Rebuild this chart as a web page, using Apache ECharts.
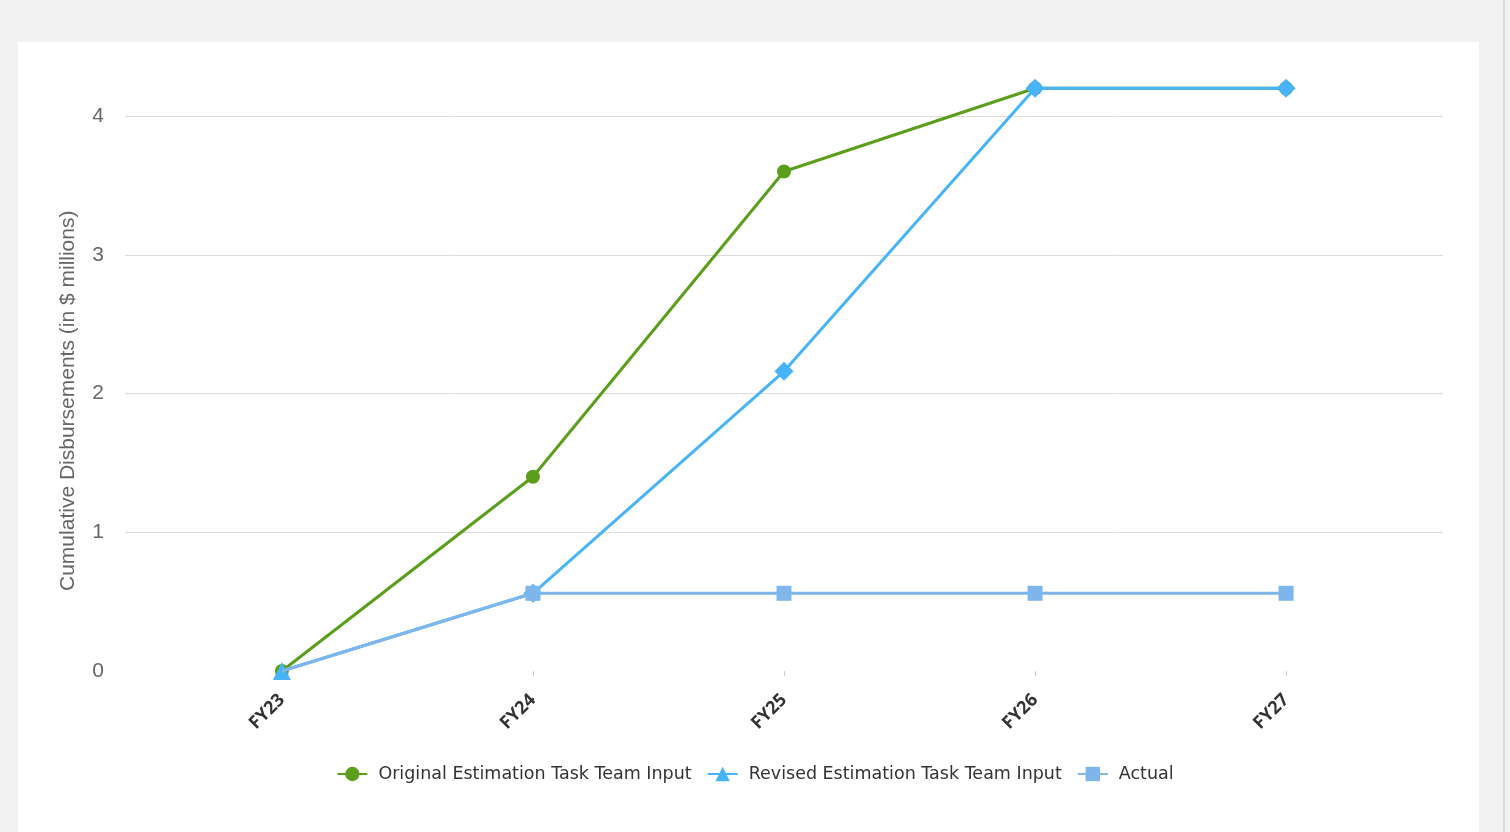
<!DOCTYPE html>
<html>
<head>
<meta charset="utf-8">
<script src="https://cdn.jsdelivr.net/npm/echarts@6/dist/echarts.min.js"></script>
<style>
  html, body { margin: 0; padding: 0; background: #f2f2f2; width: 1510px; height: 832px; overflow: hidden; }
  #panel { position: absolute; left: 18px; top: 42px; width: 1461px; height: 800px; background: #ffffff; }
  #edge { position: absolute; left: 1503px; top: 0; width: 2px; height: 832px; background: #dcdcdc; }
  #chart { position: absolute; left: 0; top: 0; width: 1510px; height: 832px; }
</style>
</head>
<body>
<div id="panel"></div>
<div id="edge"></div>
<div id="chart"></div>
<script>
const categories = ['FY23', 'FY24', 'FY25', 'FY26', 'FY27'];
const originalValues = [0, 1.4, 3.6, 4.2, 4.2];
const revisedValues = [0, 0.56, 2.16, 4.2, 4.2];
const actualValues = [0, 0.56, 0.56, 0.56, 0.56];
const yTickValues = [0, 1, 2, 3, 4];
const seriesNames = ['Original Estimation Task Team Input', 'Revised Estimation Task Team Input', 'Actual'];

const xIdx = categories.map((c, i) => i);
const pairs = vals => vals.map((v, i) => [i, v]);

const chart = echarts.init(document.getElementById('chart'), null, { renderer: 'canvas' });
chart.setOption({
  backgroundColor: 'transparent',
  animation: false,
  grid: { left: 125, right: 67, top: 60.5, bottom: 161, containLabel: false },
  xAxis: {
    type: 'value',
    min: -0.625,
    max: 4.625,
    offset: 6,
    axisLine: { show: false },
    splitLine: { show: false },
    axisTick: { show: true, customValues: xIdx, length: 5, lineStyle: { color: '#c8c8c8', width: 1 } },
    axisLabel: {
      customValues: xIdx,
      rotate: 45,
      margin: 20,
      color: '#333333',
      fontFamily: 'Open Sans',
      fontWeight: 'bold',
      fontSize: 18,
      formatter: v => categories[Math.round(v)]
    }
  },
  yAxis: {
    type: 'value',
    min: 0,
    max: 4.4,
    interval: 1,
    name: 'Cumulative Disbursements (in $ millions)',
    nameLocation: 'middle',
    nameGap: 46,
    nameTextStyle: { color: '#666666', fontSize: 21, fontFamily: 'Liberation Sans', padding: [0, 70, 0, 0] },
    axisLine: { show: false },
    axisTick: { show: false },
    splitLine: { show: true, showMinLine: false, showMaxLine: false, lineStyle: { color: '#dcdcdc', width: 1 } },
    axisLabel: {
      customValues: yTickValues,
      margin: 21,
      color: '#666666',
      fontSize: 21,
      fontFamily: 'Liberation Sans'
    }
  },
  legend: {
    bottom: 44,
    left: 'center',
    itemWidth: 30,
    itemHeight: 18,
    itemGap: 15,
    textStyle: { color: '#333333', fontSize: 17.5, fontFamily: 'DejaVu Sans', padding: [0, 0, 0, 6] },
    data: seriesNames
  },
  series: [
    {
      name: seriesNames[0],
      type: 'line',
      data: pairs(originalValues),
      symbol: 'circle',
      symbolSize: 14,
      lineStyle: { color: '#5a9e1b', width: 3 },
      itemStyle: { color: '#5a9e1b' },
      z: 2
    },
    {
      name: seriesNames[1],
      type: 'line',
      data: pairs(revisedValues).map((p, i) => ({ value: p, symbol: i === 0 ? 'triangle' : 'diamond', symbolSize: i === 0 ? 18 : 19 })),
      symbol: 'triangle',
      symbolSize: 16,
      lineStyle: { color: '#47b4f7', width: 3 },
      itemStyle: { color: '#47b4f7' },
      z: 4
    },
    {
      name: seriesNames[2],
      type: 'line',
      data: pairs(actualValues).map((p, i) => ({ value: p, symbolSize: i === 0 ? 0 : 15 })),
      symbol: 'rect',
      symbolSize: 15,
      lineStyle: { color: '#7eb6ec', width: 3 },
      itemStyle: { color: '#7eb6ec' },
      z: 5
    }
  ]
});
</script>
</body>
</html>
